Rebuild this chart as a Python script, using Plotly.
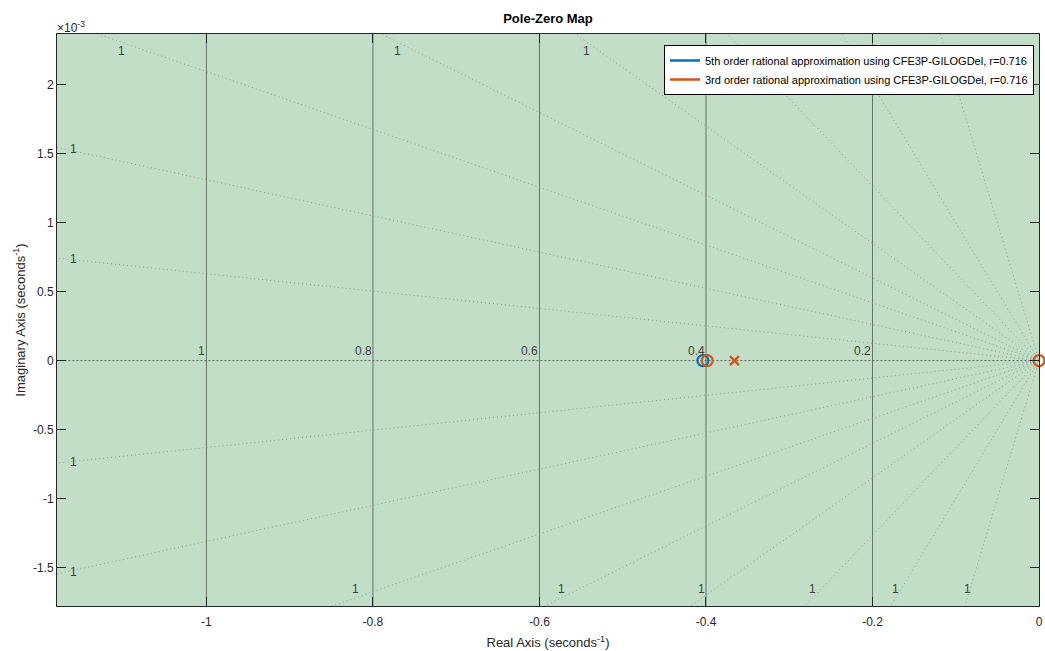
import numpy as np
import plotly.graph_objects as go

# ---- pole / zero locations (real part, imaginary part) ----
fifth_name = "5th order rational approximation using CFE3P-GILOGDel, r=0.716"
third_name = "3rd order rational approximation using CFE3P-GILOGDel, r=0.716"

fifth_zeros_re = [-0.4037, 0.0025]
fifth_zeros_im = [0.0, 0.0]

third_zeros_re = [-0.3985, 0.0]
third_zeros_im = [0.0, 0.0]
third_poles_re = [-0.3658]
third_poles_im = [0.0]

# ---- axes ----
x_range = [-1.1795, 0.0]
y_range = [-1.779e-3, 2.368e-3]
x_tick_vals = [-1.0, -0.8, -0.6, -0.4, -0.2, 0.0]
x_tick_text = ["-1", "-0.8", "-0.6", "-0.4", "-0.2", "0"]
y_tick_vals = [-1.5e-3, -1.0e-3, -0.5e-3, 0.0, 0.5e-3, 1.0e-3, 1.5e-3, 2.0e-3]
y_tick_text = ["-1.5", "-1", "-0.5", "0", "0.5", "1", "1.5", "2"]

# ---- s-plane grid: natural frequency arcs and constant-damping rays ----
wn_grid = [0.2, 0.4, 0.6, 0.8, 1.0]
wn_labels = ["0.2", "0.4", "0.6", "0.8", "1"]
# |imag/real| of each constant-damping ray (damping rounds to 1 at this zoom)
ray_slopes = [0.630e-3, 1.311e-3, 2.095e-3, 2.998e-3, 4.25e-3, 6.33e-3, 10.0e-3, 20.0e-3]
ray_label = "1"

BLUE = "#0072BD"
ORANGE = "#D95319"
BG = "#c2dec6"
TXT = "#262626"

W, H = 1045, 651
M_L, M_R, M_T, M_B = 57, 6, 34, 45
plot_w = W - M_L - M_R
plot_h = H - M_T - M_B
x_span = x_range[1] - x_range[0]
y_span = y_range[1] - y_range[0]
px_x = x_span / plot_w          # data units per pixel
px_y = y_span / plot_h

# legend box in pixels (left, top, right, bottom)
LEG_L, LEG_T, LEG_R, LEG_B = 672, 45, 1034, 90


def to_px(x, y):
    return M_L + (x - x_range[0]) / px_x, M_T + (y_range[1] - y) / px_y


fig = go.Figure()
annotations = []

# natural-frequency arcs (nearly vertical at this zoom)
for wn, lab in zip(wn_grid, wn_labels):
    th_max = np.arcsin(min(1.0, 1.5 * max(abs(y_range[0]), y_range[1]) / wn))
    th = np.linspace(-th_max, th_max, 80)
    fig.add_trace(go.Scatter(x=-wn * np.cos(th), y=wn * np.sin(th), mode="lines",
                             line=dict(color="#6a736b", width=1),
                             hoverinfo="skip", showlegend=False))
    annotations.append(dict(x=-wn, y=0, xref="x", yref="y", text=lab, showarrow=False,
                            xanchor="right", yanchor="bottom", yshift=1, xshift=1,
                            font=dict(size=12, color="#404040")))

# real axis
fig.add_trace(go.Scatter(x=[x_range[0] - 1, 0], y=[0, 0], mode="lines",
                         line=dict(color="#5a5f5b", width=1, dash="2px,2px"),
                         hoverinfo="skip", showlegend=False))

# constant-damping rays
inset = 8
for slope in ray_slopes:
    for sgn in (1, -1):
        xf = -3.0
        fig.add_trace(go.Scatter(x=[0, xf], y=[0, -sgn * slope * xf], mode="lines",
                                 line=dict(color="#8c9c8f", width=1, dash="1px,3px"),
                                 hoverinfo="skip", showlegend=False))
        y_edge = y_range[1] if sgn > 0 else y_range[0]
        if slope * abs(x_range[0]) <= abs(y_edge):
            lx = x_range[0] + inset * px_x
            ly = sgn * slope * abs(lx)
            ann = dict(x=lx, y=ly, xanchor="left", yanchor="middle", xshift=3)
        else:
            ly = y_edge - sgn * inset * px_y
            lx = -abs(ly) / slope
            ann = dict(x=lx, y=ly, xanchor="center",
                       yanchor="top" if sgn > 0 else "bottom")
        qx, qy = to_px(lx, ly)
        if LEG_L - 6 <= qx <= LEG_R and LEG_T - 6 <= qy <= LEG_B + 6:
            continue   # sits under the opaque legend box
        ann.update(xref="x", yref="y", text=ray_label, showarrow=False,
                   font=dict(size=12, color="#404040"))
        annotations.append(ann)

# pole / zero markers
fig.add_trace(go.Scatter(x=fifth_zeros_re, y=fifth_zeros_im, mode="markers",
                         marker=dict(symbol="circle-open", size=11, color=BLUE,
                                     line=dict(width=2.2, color=BLUE)),
                         cliponaxis=False, showlegend=False, name=fifth_name))
fig.add_trace(go.Scatter(x=third_zeros_re, y=third_zeros_im, mode="markers",
                         marker=dict(symbol="circle-open", size=11, color=ORANGE,
                                     line=dict(width=2.2, color=ORANGE)),
                         cliponaxis=False, showlegend=False, name=third_name))
fig.add_trace(go.Scatter(x=third_poles_re, y=third_poles_im, mode="markers",
                         marker=dict(symbol="x-thin-open", size=9, color=ORANGE,
                                     line=dict(width=2.4, color=ORANGE)),
                         cliponaxis=False, showlegend=False, name=third_name))

# legend entries drawn as line samples
fig.add_trace(go.Scatter(x=[None], y=[None], mode="lines", name=fifth_name,
                         line=dict(color=BLUE, width=2.5)))
fig.add_trace(go.Scatter(x=[None], y=[None], mode="lines", name=third_name,
                         line=dict(color=ORANGE, width=2.5)))

# exponent marker for the imaginary axis
annotations.append(dict(x=0, y=1, xref="paper", yref="paper", text="×10<sup>-3</sup>",
                        showarrow=False, xanchor="left", yanchor="bottom", xshift=-2,
                        yshift=-3, font=dict(size=12, color=TXT)))

axis_common = dict(showgrid=False, zeroline=False, ticks="inside", ticklen=9,
                   tickwidth=1, tickcolor=TXT, showline=True, linecolor=TXT,
                   linewidth=1, mirror="ticks", automargin=False,
                   tickfont=dict(family="Arial, Liberation Sans, sans-serif",
                                 size=12, color=TXT))

fig.update_layout(
    width=W, height=H,
    margin=dict(l=M_L, r=M_R, t=M_T, b=M_B),
    paper_bgcolor="white",
    plot_bgcolor=BG,
    font=dict(family="Arial, Liberation Sans, sans-serif", color=TXT),
    title=dict(text="<b>Pole-Zero Map</b>", x=0.5, xref="paper", xanchor="center",
               y=1 - 18 / H, yref="container", yanchor="middle",
               font=dict(size=13, color="#000000")),
    xaxis=dict(range=x_range, tickvals=x_tick_vals, ticktext=x_tick_text,
               ticklabelstandoff=5,
               title=dict(text="Real Axis (seconds<sup>-1</sup>)", standoff=9,
                          font=dict(size=13, color=TXT)),
               **axis_common),
    yaxis=dict(range=y_range, tickvals=y_tick_vals, ticktext=y_tick_text,
               title=dict(text="Imaginary Axis (seconds<sup>-1</sup>)", standoff=4,
                          font=dict(size=13, color=TXT)),
               **axis_common),
    legend=dict(x=(LEG_R - M_L) / plot_w, xanchor="right",
                y=(H - M_B - LEG_T) / plot_h, yanchor="top",
                bgcolor="white", bordercolor="#000000", borderwidth=1,
                font=dict(size=11, color="#000000"), tracegroupgap=0,
                itemwidth=30),
    annotations=annotations,
    showlegend=True,
)

fig.write_html("out.html")
